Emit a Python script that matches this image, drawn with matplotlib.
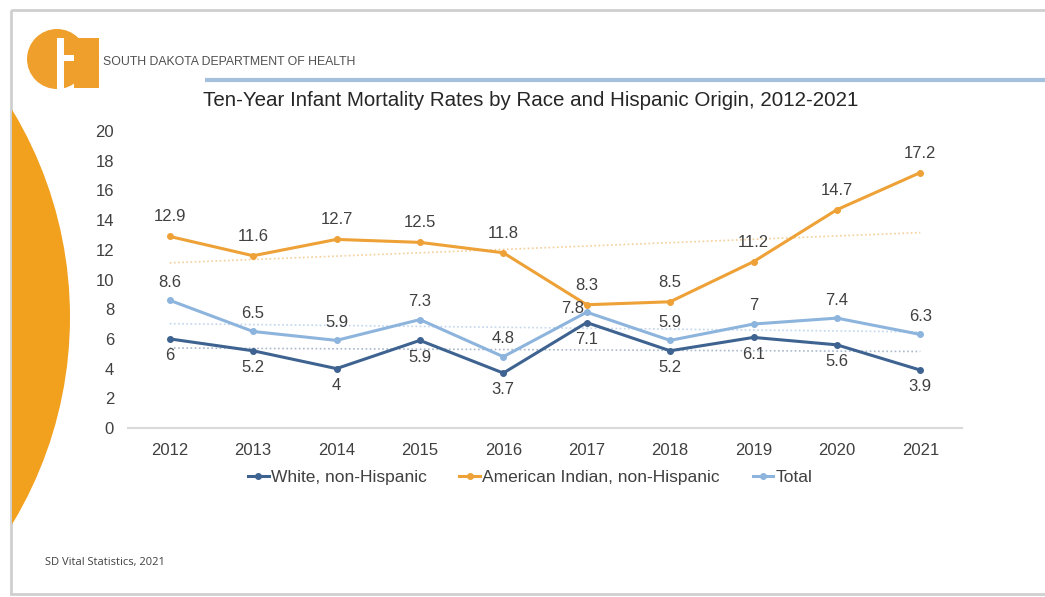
import matplotlib.pyplot as plt
import matplotlib.patches as mpatches
import numpy as np

years = ['2012', '2013', '2014', '2015', '2016', '2017', '2018', '2019', '2020', '2021']
white = [6, 5.2, 4, 5.9, 3.7, 7.1, 5.2, 6.1, 5.6, 3.9]
amer_indian = [12.9, 11.6, 12.7, 12.5, 11.8, 8.3, 8.5, 11.2, 14.7, 17.2]
total = [8.6, 6.5, 5.9, 7.3, 4.8, 7.8, 5.9, 7, 7.4, 6.3]

series_names = ['White, non-Hispanic', 'American Indian, non-Hispanic', 'Total']

plt.rcParams['font.family'] = ['Liberation Sans', 'DejaVu Sans']

W, H = 1045, 597
fig = plt.figure(figsize=(W / 100, H / 100), dpi=100)

# slide decorations in pixel coordinates
bg = fig.add_axes([0, 0, 1, 1], zorder=-1)
bg.set_xlim(0, W)
bg.set_ylim(H, 0)
bg.axis('off')

orange = '#EFA02C'
slide = mpatches.Rectangle((11, 10), W, 584, fill=False, ec='#cfcfcf', lw=2)
bg.add_patch(slide)
arc = mpatches.Circle((-330, 317), 400, color='#F2A11F', lw=0)
bg.add_patch(arc)
arc.set_clip_path(mpatches.Rectangle((12, 10), W, 584, transform=bg.transData))

# logo
bg.add_patch(mpatches.Circle((57, 59), 30, color=orange, lw=0))
bg.add_patch(mpatches.Rectangle((74, 38), 25, 50, color=orange, lw=0))
bg.add_patch(mpatches.Rectangle((57, 38), 7, 54, color='white', lw=0))
bg.add_patch(mpatches.Rectangle((64, 55), 10, 6, color='white', lw=0))
bg.text(103, 62, 'SOUTH DAKOTA DEPARTMENT OF HEALTH', fontsize=8.8, color='#505050',
        va='center', ha='left')
bg.plot([205, W], [80, 80], color='#a4c0dc', lw=3, solid_capstyle='butt')
bg.text(531, 101, 'Ten-Year Infant Mortality Rates by Race and Hispanic Origin, 2012-2021',
        fontsize=14.8, color='#262626', ha='center', va='center')
bg.text(45, 563, 'SD Vital Statistics, 2021', fontsize=8, color='#404040',
        va='center', ha='left', family=['Open Sans', 'DejaVu Sans'])

# chart
ax = fig.add_axes([128 / W, 1 - 428 / H, (962 - 128) / W, (428 - 131) / H])
x = np.arange(len(years))
ax.set_xlim(-0.5, len(years) - 0.5)
ax.set_ylim(0, 20)
ax.set_yticks(range(0, 21, 2))
ax.set_xticks(x)
ax.set_xticklabels(years)
ax.tick_params(length=0, labelsize=12, colors='#404040')
ax.tick_params(axis='y', pad=10)
ax.tick_params(axis='x', pad=11)
for s in ['top', 'right', 'left']:
    ax.spines[s].set_visible(False)
ax.spines['bottom'].set_color('#d9d9d9')
ax.spines['bottom'].set_linewidth(1.5)
ax.patch.set_alpha(0)

colors = ['#3E6391', '#EDA136', '#8DB4DC']
trend_colors = ['#a9b9cc', '#f3cf9a', '#c2d6ec']
data = [white, amer_indian, total]

# linear trendlines
for vals, c, tc in zip(data, colors, trend_colors):
    k, b = np.polyfit(x, vals, 1)
    ax.plot(x, k * x + b, color=tc, lw=1.2, ls=(0, (1, 1.5)), zorder=1)

lines = []
for vals, c, name in zip(data, colors, series_names):
    ln, = ax.plot(x, vals, color=c, lw=2.2, marker='o', ms=4, label=name, zorder=3)
    lines.append(ln)

lab = dict(fontsize=12, color='#404040', ha='center', va='center', textcoords='offset points')
for i, v in enumerate(amer_indian):
    ax.annotate(f'{v:g}', (i, v), xytext=(0, 14), **lab)
for i, v in enumerate(white):
    ax.annotate(f'{v:g}', (i, v), xytext=(0, -12), **lab)
for i, v in enumerate(total):
    if years[i] == '2017':
        ax.annotate(f'{v:g}', (i, v), xytext=(-10, 3), **lab)
    else:
        ax.annotate(f'{v:g}', (i, v), xytext=(0, 13), **lab)

fig.legend(handles=lines, loc='center', bbox_to_anchor=(530 / W, 1 - 477 / H), ncol=3,
           frameon=False, handlelength=1.2, handletextpad=0.1,
           columnspacing=1.9, labelcolor='#404040',
           prop={'family': ['Liberation Sans', 'DejaVu Sans'], 'size': 12.5})

fig.savefig('out.png', dpi=100)
